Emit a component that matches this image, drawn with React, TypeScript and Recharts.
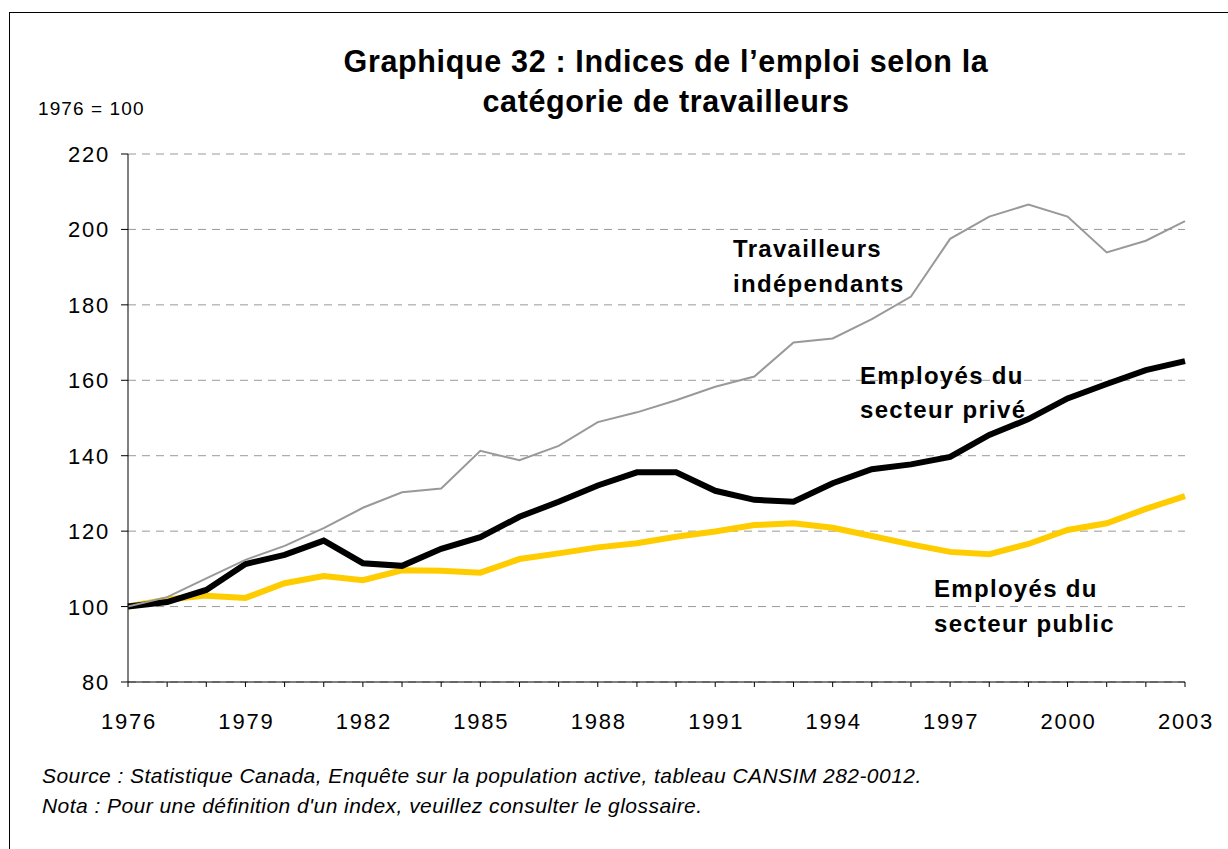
import { LineChart, Line, XAxis, YAxis, CartesianGrid } from 'recharts'

const years = [
  1976, 1977, 1978, 1979, 1980, 1981, 1982, 1983, 1984, 1985, 1986, 1987, 1988, 1989,
  1990, 1991, 1992, 1993, 1994, 1995, 1996, 1997, 1998, 1999, 2000, 2001, 2002, 2003,
]
const labelYears = [1976, 1979, 1982, 1985, 1988, 1991, 1994, 1997, 2000, 2003]
const yTicks = [80, 100, 120, 140, 160, 180, 200, 220]

// Travailleurs indépendants
const selfEmployed = [
  100, 102.5, 107.5, 112.4, 116.1, 120.8, 126.2, 130.3, 131.3, 141.3, 138.8, 142.6, 148.9, 151.5,
  154.7, 158.3, 161.0, 170.0, 171.1, 176.2, 182.2, 197.5, 203.4, 206.6, 203.4, 193.9, 197.0, 202.2,
]
// Employés du secteur privé
const privateSector = [
  100, 101.2, 104.4, 111.3, 113.7, 117.5, 111.5, 110.8, 115.3, 118.4, 123.8, 127.8, 132.1, 135.6,
  135.6, 130.7, 128.3, 127.8, 132.7, 136.4, 137.7, 139.7, 145.5, 149.7, 155.2, 159.0, 162.7, 165.1,
]
// Employés du secteur public
const publicSector = [
  100, 101.9, 102.9, 102.3, 106.2, 108.1, 107.0, 109.6, 109.5, 109.0, 112.6, 114.1, 115.7, 116.8,
  118.5, 119.9, 121.6, 122.1, 120.9, 118.7, 116.5, 114.5, 113.9, 116.6, 120.3, 122.1, 125.9, 129.3,
]

const data = years.map((year, i) => ({
  year,
  selfEmployed: selfEmployed[i],
  privateSector: privateSector[i],
  publicSector: publicSector[i],
}))

const font = 'Arial, "Liberation Sans", Helvetica, sans-serif'

const XTick = (props: any) => {
  const { x, y, payload } = props
  if (!labelYears.includes(payload.value)) return null
  return (
    <text x={x + 1} y={y + 40} textAnchor="middle" fontSize={22} letterSpacing={1.8} fontFamily={font} fill="#000">
      {payload.value}
    </text>
  )
}

const YTick = (props: any) => {
  const { x, y, payload } = props
  return (
    <text x={x + 2} y={y + 8} textAnchor="end" fontSize={22} letterSpacing={1.8} fontFamily={font} fill="#000">
      {payload.value}
    </text>
  )
}

const annotation = { fontFamily: font, fontSize: 24, fontWeight: 700, letterSpacing: 1.3, fill: '#000' }

export default function App() {
  return (
    <div style={{ position: 'absolute', left: 0, top: 0, width: 1228, height: 849, background: '#fff', overflow: 'hidden', fontFamily: font }}>
      <div style={{ position: 'absolute', left: 9, top: 12, width: 1240, height: 900, border: '1px solid #000' }} />
      <div style={{ position: 'absolute', left: 0, top: 0 }}>
        <LineChart width={1228} height={849} data={data} margin={{ top: 154, right: 43, bottom: 127, left: 68 }}>
          <CartesianGrid horizontal vertical={false} stroke="#999" strokeDasharray="8 6" />
          <XAxis
            dataKey="year"
            type="number"
            domain={[1976, 2003]}
            ticks={years}
            interval={0}
            height={40}
            stroke="#000"
            tickSize={5}
            tickLine={{ stroke: '#000' }}
            tick={<XTick />}
          />
          <YAxis
            type="number"
            domain={[80, 220]}
            ticks={yTicks}
            interval={0}
            width={60}
            stroke="#000"
            tickSize={7}
            tickMargin={13}
            tick={<YTick />}
          />
          <Line dataKey="publicSector" stroke="#FFCC00" strokeWidth={6} dot={false} isAnimationActive={false} />
          <Line dataKey="privateSector" stroke="#000" strokeWidth={6} dot={false} isAnimationActive={false} />
          <Line dataKey="selfEmployed" stroke="#999" strokeWidth={2} dot={false} isAnimationActive={false} />
        </LineChart>
      </div>
      <svg width={1228} height={849} style={{ position: 'absolute', left: 0, top: 0, pointerEvents: 'none' }}>
        <text x={666} y={72} textAnchor="middle" fontFamily={font} fontSize={30.5} letterSpacing={0.65} fontWeight={700}>
          Graphique 32 : Indices de l’emploi selon la
        </text>
        <text x={666} y={112} textAnchor="middle" fontFamily={font} fontSize={30.5} letterSpacing={0.65} fontWeight={700}>
          catégorie de travailleurs
        </text>
        <text x={38} y={115} fontFamily={font} fontSize={19} letterSpacing={1.1}>
          1976 = 100
        </text>
        <text x={733} y={257} {...annotation}>Travailleurs</text>
        <text x={733} y={292} {...annotation}>indépendants</text>
        <text x={860} y={384} {...annotation}>Employés du</text>
        <text x={860} y={418} {...annotation}>secteur privé</text>
        <text x={934} y={597} {...annotation}>Employés du</text>
        <text x={934} y={632} {...annotation}>secteur public</text>
        <text x={42} y={783} fontFamily={font} fontSize={21} letterSpacing={0.45} fontStyle="italic">
          Source : Statistique Canada, Enquête sur la population active, tableau CANSIM 282-0012.
        </text>
        <text x={42} y={813} fontFamily={font} fontSize={21} letterSpacing={0.45} fontStyle="italic">
          Nota : Pour une définition d'un index, veuillez consulter le glossaire.
        </text>
      </svg>
    </div>
  )
}
